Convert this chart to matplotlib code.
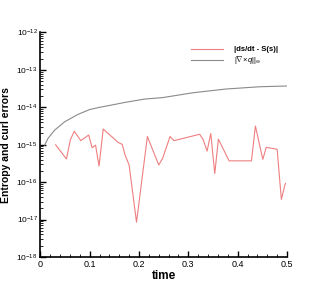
import numpy as np
import matplotlib
matplotlib.use('Agg')
import matplotlib.pyplot as plt
from matplotlib.ticker import MultipleLocator, FixedLocator, NullFormatter

plt.rcParams['font.family'] = ['Liberation Sans', 'DejaVu Sans']
plt.rcParams['mathtext.fontset'] = 'custom'
plt.rcParams['mathtext.rm'] = 'Liberation Sans'
plt.rcParams['mathtext.it'] = 'Liberation Sans:italic'

#  Entropy error |ds/dt - S(s)|
t_ent = [0.031, 0.053, 0.061, 0.069, 0.082, 0.098, 0.105, 0.112, 0.119,
         0.1275, 0.158, 0.166, 0.172, 0.180, 0.195, 0.217, 0.240, 0.248,
         0.263, 0.271, 0.323, 0.330, 0.338, 0.3455, 0.3536, 0.361, 0.3826,
         0.428, 0.436, 0.451, 0.458, 0.480, 0.4886, 0.4953, 0.497]
log_ent = [-15.00, -15.38, -14.86, -14.64, -14.89, -14.74, -15.08, -15.01,
           -15.57, -14.58, -14.94, -14.99, -15.28, -15.54, -17.07, -14.78,
           -15.54, -15.36, -14.78, -14.89, -14.72, -14.86, -15.17, -14.70,
           -15.77, -14.85, -15.43, -15.43, -14.50, -15.39, -15.07, -15.12,
           -16.46, -16.10, -16.03]

#  Curl error ||curl q||_inf
t_curl = [0.0089, 0.0156, 0.029, 0.049, 0.076, 0.100, 0.120, 0.144, 0.171,
          0.211, 0.248, 0.3097, 0.377, 0.445, 0.499]
log_curl = [-15.01, -14.83, -14.61, -14.39, -14.19, -14.06, -14.00, -13.94,
            -13.87, -13.78, -13.74, -13.61, -13.51, -13.45, -13.43]

y_exp = [-18, -17, -16, -15, -14, -13, -12]

ent = 10.0 ** np.array(log_ent)
curl = 10.0 ** np.array(log_curl)

fig = plt.figure(figsize=(3.23, 2.87), dpi=100)
ax = fig.add_axes([0.1248, 0.1045, 0.7637, 0.7823])

ax.semilogy(t_ent, ent, color='#ee7f80', lw=0.8,
            label='|ds/dt - S(s)|')
ax.semilogy(t_curl, curl, color='#8a8a8a', lw=0.8,
            label=r'$|\nabla\!\times\! q||_\infty$')

ax.set_xlim(0, 0.5)
ax.set_ylim(1e-18, 1e-12)
ax.xaxis.set_major_locator(MultipleLocator(0.1))
ax.xaxis.set_minor_locator(MultipleLocator(0.02))
ax.set_yticks([10.0 ** e for e in y_exp])
ax.set_yticklabels([r'$10^{%d}$' % e for e in y_exp])
minors = [m * 10.0 ** e for e in y_exp[:-1] for m in range(2, 10)]
ax.yaxis.set_minor_locator(FixedLocator(minors))
ax.yaxis.set_minor_formatter(NullFormatter())
ax.xaxis.set_major_formatter(plt.FuncFormatter(
    lambda v, p: '0' if abs(v) < 1e-9 else '%g' % v))

ax.spines['top'].set_visible(False)
ax.spines['right'].set_visible(False)
ax.spines['left'].set_linewidth(1.2)
ax.spines['bottom'].set_linewidth(1.2)
ax.tick_params(which='both', direction='in', pad=2)
ax.tick_params(axis='x', labelsize=6.5)
ax.tick_params(axis='y', labelsize=6)
ax.tick_params(which='major', length=4, width=1.0)
ax.tick_params(which='minor', length=2, width=0.6)

ax.set_xlabel('time', fontsize=8.5, fontweight='bold', labelpad=1)
ax.set_ylabel('Entropy and curl errors', fontsize=7.5, fontweight='bold',
              labelpad=4)

leg = ax.legend(loc='upper right', bbox_to_anchor=(0.99, 0.97),
                frameon=False, fontsize=5.5, handlelength=4.2,
                handletextpad=1.4, labelspacing=0.1)
leg.get_texts()[0].set_fontweight('bold')

fig.savefig('out.png', dpi=100)
